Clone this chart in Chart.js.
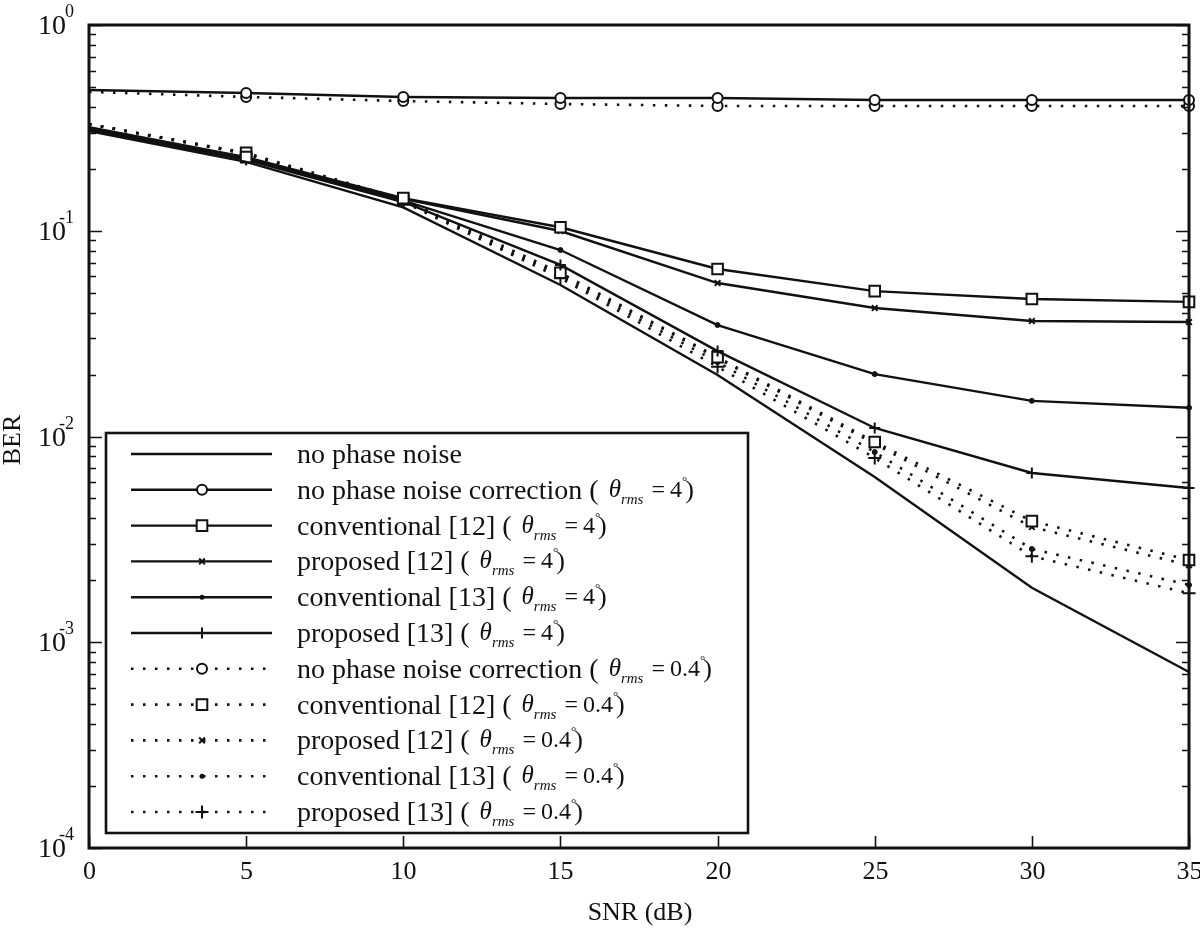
<!DOCTYPE html>
<html>
<head>
<meta charset="utf-8">
<script src="https://cdn.jsdelivr.net/npm/chart.js@4/dist/chart.umd.min.js"></script>
<style>
  html, body { margin: 0; background: #fff; }
  canvas { display: block; }
</style>
</head>
<body>
<canvas id="berChart" width="1200" height="930"></canvas>
<script>
// SNR axis (dB)
const snr = [0, 5, 10, 15, 20, 25, 30, 35];
const xTicks = [0, 5, 10, 15, 20, 25, 30, 35];
const yDecades = [-4, -3, -2, -1, 0];

// BER
const noPhaseNoise   = [0.305, 0.216, 0.130, 0.0545, 0.0199, 0.00636, 0.00184, 0.000717];
const noCorr4        = [0.483, 0.467, 0.447, 0.442, 0.442, 0.432, 0.432, 0.432];
const conv12_4       = [0.319, 0.228, 0.144, 0.104, 0.0652, 0.0509, 0.0466, 0.0451];
const prop12_4       = [0.317, 0.226, 0.143, 0.0997, 0.0557, 0.0421, 0.0364, 0.0360];
const conv13_4       = [0.312, 0.223, 0.140, 0.0806, 0.0348, 0.0201, 0.0149, 0.0138];
const prop13_4       = [0.309, 0.221, 0.138, 0.0682, 0.0260, 0.0110, 0.00665, 0.00562];
const noCorr04       = [0.473, 0.447, 0.427, 0.413, 0.404, 0.404, 0.404, 0.404];
const conv12_04      = [0.330, 0.239, 0.142, 0.0625, 0.0243, 0.0094, 0.00388, 0.00251];
const prop12_04      = [0.330, 0.238, 0.141, 0.0615, 0.0240, 0.0092, 0.00363, 0.00237];
const conv13_04      = [0.330, 0.237, 0.139, 0.0600, 0.0230, 0.0084, 0.00284, 0.00190];
const prop13_04      = [0.330, 0.236, 0.138, 0.0588, 0.0218, 0.00786, 0.00262, 0.00173];

const seriesNames = [
  'no phase noise',
  'no phase noise correction',
  'conventional [12]',
  'proposed [12]',
  'conventional [13]',
  'proposed [13]',
  'no phase noise correction',
  'conventional [12]',
  'proposed [12]',
  'conventional [13]',
  'proposed [13]'
];
const seriesTheta = [null, '4', '4', '4', '4', '4', '0.4', '0.4', '0.4', '0.4', '0.4'];
const seriesData = [noPhaseNoise, noCorr4, conv12_4, prop12_4, conv13_4, prop13_4,
                    noCorr04, conv12_04, prop12_04, conv13_04, prop13_04];
const seriesMarker = [null, 'circle', 'rect', 'crossRot', 'dot', 'cross',
                      'circle', 'rect', 'crossRot', 'dot', 'cross'];
const seriesDotted = [false, false, false, false, false, false, true, true, true, true, true];

const INK = '#111';
const SERIF = '"Liberation Serif", "Times New Roman", serif';

function markerRadius(m, dotted) {
  if (m === 'circle') return 5;
  if (m === 'rect') return 7.5;
  if (m === 'crossRot') return 4;
  if (m === 'dot') return 2.5;
  if (m === 'cross') return dotted ? 6.5 : 5.5;
  return 0;
}

const datasets = seriesData.map((vals, i) => {
  const m = seriesMarker[i];
  const r = markerRadius(m, seriesDotted[i]);
  return {
    label: seriesNames[i],
    data: snr.map((x, j) => ({ x: x, y: vals[j] })),
    borderColor: INK,
    borderWidth: seriesDotted[i] ? 2.6 : 2.4,
    borderDash: seriesDotted[i] ? [2.5, 9.5] : [],
    tension: 0,
    fill: false,
    clip: false,
    pointStyle: m === 'dot' ? 'circle' : (m || 'circle'),
    pointRadius: ctx => (m && ctx.dataIndex > 0) ? r : 0,
    pointBorderColor: INK,
    pointBackgroundColor: m === 'dot' ? INK : '#fff',
    pointBorderWidth: m === 'dot' ? 1 : 2
  };
});

function drawMarker(ctx, m, x, y, dotted) {
  const r = markerRadius(m, dotted);
  ctx.save();
  ctx.strokeStyle = INK;
  ctx.lineWidth = 2;
  ctx.setLineDash([]);
  ctx.beginPath();
  if (m === 'circle') {
    ctx.fillStyle = '#fff';
    ctx.arc(x, y, r, 0, Math.PI * 2);
    ctx.fill(); ctx.stroke();
  } else if (m === 'rect') {
    const s = r * Math.SQRT1_2;
    ctx.fillStyle = '#fff';
    ctx.rect(x - s, y - s, 2 * s, 2 * s);
    ctx.fill(); ctx.stroke();
  } else if (m === 'crossRot') {
    const s = r * Math.SQRT1_2;
    ctx.moveTo(x - s, y - s); ctx.lineTo(x + s, y + s);
    ctx.moveTo(x + s, y - s); ctx.lineTo(x - s, y + s);
    ctx.stroke();
  } else if (m === 'dot') {
    ctx.fillStyle = INK;
    ctx.arc(x, y, r, 0, Math.PI * 2);
    ctx.fill();
  } else if (m === 'cross') {
    ctx.moveTo(x - r, y); ctx.lineTo(x + r, y);
    ctx.moveTo(x, y - r); ctx.lineTo(x, y + r);
    ctx.stroke();
  }
  ctx.restore();
}

// frame, inward ticks, tick labels, titles and the boxed legend
const figurePlugin = {
  id: 'figure',
  afterDraw(chart) {
    const ctx = chart.ctx;
    const xs = chart.scales.x;
    const ys = chart.scales.y;
    const a = chart.chartArea;
    ctx.save();
    ctx.strokeStyle = INK;
    ctx.fillStyle = INK;
    ctx.setLineDash([]);

    // x ticks + labels
    ctx.lineWidth = 1.6;
    ctx.font = '26px ' + SERIF;
    ctx.textAlign = 'center';
    ctx.textBaseline = 'middle';
    xTicks.forEach(t => {
      const px = Math.round(xs.getPixelForValue(t)) + 0.5;
      ctx.beginPath();
      ctx.moveTo(px, a.bottom); ctx.lineTo(px, a.bottom - 12);
      ctx.stroke();
      ctx.fillText(String(t), px, a.bottom + 24);
    });

    // y ticks (major and minor, both sides)
    yDecades.forEach(d => {
      const py = Math.round(ys.getPixelForValue(Math.pow(10, d))) + 0.5;
      ctx.beginPath();
      ctx.moveTo(a.left, py); ctx.lineTo(a.left + 13, py);
      ctx.moveTo(a.right, py); ctx.lineTo(a.right - 13, py);
      ctx.stroke();
      if (d < 0) {
        for (let k = 2; k <= 9; k++) {
          const pm = Math.round(ys.getPixelForValue(k * Math.pow(10, d))) + 0.5;
          ctx.beginPath();
          ctx.moveTo(a.left, pm); ctx.lineTo(a.left + 7, pm);
          ctx.moveTo(a.right, pm); ctx.lineTo(a.right - 7, pm);
          ctx.stroke();
        }
      }
      // label 10^d
      ctx.textAlign = 'right';
      ctx.textBaseline = 'middle';
      ctx.font = '28px ' + SERIF;
      ctx.fillText('10', 66, py + 1);
      ctx.textAlign = 'left';
      ctx.font = '18px ' + SERIF;
      const ex = d === 0 ? '0' : '-' + Math.abs(d);
      ctx.fillText(ex, d === 0 ? 65 : 59, py - 13);
    });

    // frame
    ctx.lineWidth = 3;
    ctx.strokeRect(a.left, a.top, a.right - a.left, a.bottom - a.top);

    // axis titles
    ctx.font = '26px ' + SERIF;
    ctx.textAlign = 'center';
    ctx.textBaseline = 'middle';
    ctx.fillText('SNR (dB)', 640, 913);
    ctx.save();
    ctx.translate(13, 440);
    ctx.rotate(-Math.PI / 2);
    ctx.fillText('BER', 0, 0);
    ctx.restore();

    // legend box
    const bx = 106, by = 433, bw = 642, bh = 400;
    ctx.fillStyle = '#fff';
    ctx.fillRect(bx, by, bw, bh);
    ctx.lineWidth = 2.6;
    ctx.strokeStyle = INK;
    ctx.strokeRect(bx, by, bw, bh);

    const rowY0 = 454, rowDy = 35.8;
    seriesNames.forEach((name, i) => {
      const y = rowY0 + i * rowDy;
      ctx.save();
      ctx.lineWidth = seriesDotted[i] ? 2.6 : 2.4;
      ctx.setLineDash(seriesDotted[i] ? [2.5, 9.5] : []);
      ctx.strokeStyle = INK;
      ctx.beginPath();
      ctx.moveTo(131, y); ctx.lineTo(272, y);
      ctx.stroke();
      ctx.restore();
      if (seriesMarker[i]) drawMarker(ctx, seriesMarker[i], 202, y, seriesDotted[i]);

      ctx.fillStyle = INK;
      ctx.textAlign = 'left';
      ctx.textBaseline = 'alphabetic';
      const base = y + 9;
      ctx.font = '28px ' + SERIF;
      let tx = 297;
      ctx.fillText(name, tx, base);
      tx += ctx.measureText(name).width;
      const th = seriesTheta[i];
      if (th) {
        ctx.fillText(' (', tx, base);
        tx += ctx.measureText(' (').width + 10;
        ctx.font = 'italic 25px ' + SERIF;
        ctx.fillText('\u03B8', tx, base - 2);
        tx += ctx.measureText('\u03B8').width;
        ctx.font = 'italic 15px ' + SERIF;
        ctx.fillText('rms', tx, base + 5);
        tx += ctx.measureText('rms').width + 8;
        ctx.font = '24px ' + SERIF;
        ctx.fillText('=', tx, base - 2);
        tx += ctx.measureText('=').width + 5;
        ctx.fillText(th, tx, base - 2);
        tx += ctx.measureText(th).width;
        ctx.font = '13px ' + SERIF;
        ctx.fillText('\u00B0', tx, base - 14);
        tx += ctx.measureText('\u00B0').width - 2;
        ctx.font = '26px ' + SERIF;
        ctx.fillText(')', tx, base - 1);
      }
    });
    ctx.restore();
  }
};

new Chart(document.getElementById('berChart'), {
  type: 'line',
  data: { datasets: datasets },
  options: {
    responsive: false,
    animation: false,
    layout: { padding: { left: 89, top: 25, right: 11, bottom: 82 } },
    plugins: {
      legend: { display: false },
      tooltip: { enabled: false }
    },
    scales: {
      x: { type: 'linear', min: 0, max: 35, display: false },
      y: { type: 'logarithmic', min: 1e-4, max: 1, display: false }
    }
  },
  plugins: [figurePlugin]
});
</script>
</body>
</html>
